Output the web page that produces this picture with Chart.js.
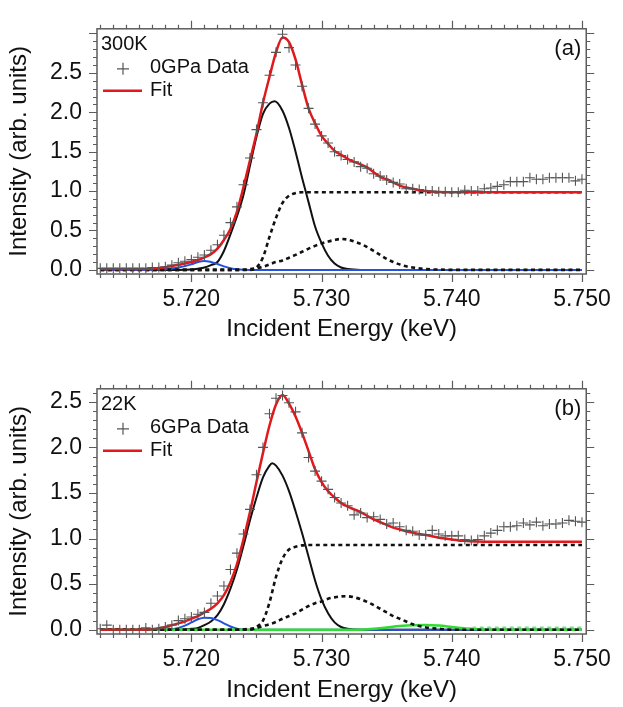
<!DOCTYPE html>
<html>
<head>
<meta charset="utf-8">
<script src="https://cdn.jsdelivr.net/npm/chart.js@4.4.1/dist/chart.umd.min.js"></script>
<style>
  html, body { margin:0; padding:0; background:#fff; }
  body { width:623px; height:707px; position:relative; overflow:hidden; }
  canvas { position:absolute; left:0; }
  #chartA { top:0; }
  #chartB { top:360px; }
</style>
</head>
<body>
<canvas id="chartA" width="623" height="346"></canvas>
<canvas id="chartB" width="623" height="347"></canvas>
<script>
// ---- data (energy in keV, intensity in arb. units) ----
const energy = [
  5.7130, 5.7135, 5.7140, 5.7145, 5.7150, 5.7155, 5.7160, 5.7165, 5.7170, 5.7175,
  5.7180, 5.7185, 5.7190, 5.7195, 5.7200, 5.7205, 5.7210, 5.7215, 5.7220, 5.7225,
  5.7230, 5.7235, 5.7240, 5.7245, 5.7250, 5.7255, 5.7260, 5.7265, 5.7270, 5.7275,
  5.7280, 5.7285, 5.7290, 5.7295, 5.7300, 5.7305, 5.7310, 5.7315, 5.7320, 5.7325,
  5.7330, 5.7335, 5.7340, 5.7345, 5.7350, 5.7355, 5.7360, 5.7365, 5.7370, 5.7375,
  5.7380, 5.7385, 5.7390, 5.7395, 5.7400, 5.7405, 5.7410, 5.7415, 5.7420, 5.7425,
  5.7430, 5.7435, 5.7440, 5.7445, 5.7450, 5.7455, 5.7460, 5.7465, 5.7470, 5.7475,
  5.7480, 5.7485, 5.7490, 5.7495, 5.7500
];
const dataA = [
  0.02, 0.02, 0.02, 0.02, 0.02, 0.02, 0.02, 0.02, 0.03, 0.03,
  0.04, 0.06, 0.09, 0.11, 0.13, 0.16, 0.19, 0.25, 0.32, 0.44,
  0.60, 0.80, 1.08, 1.42, 1.78, 2.12, 2.47, 2.76, 2.99, 2.82,
  2.60, 2.33, 2.05, 1.85, 1.70, 1.61, 1.50, 1.45, 1.40, 1.37,
  1.31, 1.29, 1.22, 1.19, 1.14, 1.11, 1.09, 1.03, 1.03, 1.02,
  1.00, 1.00, 0.99, 0.99, 0.985, 0.985, 1.01, 1.00, 1.00, 1.03,
  1.04, 1.06, 1.08, 1.12, 1.12, 1.12, 1.17, 1.15, 1.15, 1.17,
  1.17, 1.17, 1.17, 1.13, 1.15
];
const dataB = [
  0.01, 0.05, 0.00, 0.00, 0.00, 0.00, 0.00, 0.02, 0.00, 0.01,
  0.03, 0.05, 0.10, 0.12, 0.14, 0.17, 0.19, 0.29, 0.37, 0.48,
  0.66, 0.84, 1.05, 1.32, 1.70, 2.00, 2.37, 2.54, 2.57, 2.49,
  2.39, 2.16, 1.89, 1.74, 1.63, 1.54, 1.45, 1.39, 1.36, 1.26,
  1.28, 1.23, 1.24, 1.21, 1.16, 1.17, 1.13, 1.09, 1.08, 1.04,
  1.04, 1.09, 1.05, 1.03, 1.03, 1.03, 0.99, 0.98, 0.99, 1.03,
  1.06, 1.09, 1.13, 1.13, 1.14, 1.17, 1.15, 1.18, 1.14, 1.16,
  1.16, 1.17, 1.20, 1.19, 1.18
];

// fit curves, panel (a)
const fitAE = [5.7130, 5.7160,
  5.7165, 5.7170, 5.7175, 5.7180, 5.7185, 5.7190, 5.7195, 5.7200, 5.7205, 5.7210,
  5.7215, 5.7220, 5.7225, 5.7230, 5.7235, 5.7240, 5.7245, 5.7250, 5.7255, 5.7260,
  5.7265, 5.7270, 5.7275, 5.7280, 5.7285, 5.7290, 5.7295, 5.7300, 5.7305, 5.7310,
  5.7315, 5.7320, 5.7325, 5.7330, 5.7335, 5.7340, 5.7345, 5.7350, 5.7355, 5.7360,
  5.7365, 5.7370, 5.7375, 5.7380, 5.7385, 5.7390,
  5.7400, 5.7500];
const fitA = [0.01, 0.01,
  0.01, 0.015, 0.025, 0.035, 0.05, 0.065, 0.08, 0.10, 0.125, 0.16,
  0.20, 0.27, 0.38, 0.52, 0.74, 1.05, 1.39, 1.73, 2.12, 2.45,
  2.76, 2.95, 2.89, 2.67, 2.35, 2.05, 1.86, 1.70, 1.60, 1.51,
  1.46, 1.41, 1.37, 1.34, 1.30, 1.24, 1.18, 1.15, 1.11, 1.07,
  1.045, 1.03, 1.01, 1.00, 0.993, 0.988,
  0.985, 0.985];
const peakAE = [5.7130, 5.7190, 5.7200, 5.7205, 5.7210, 5.7215, 5.7220, 5.7225, 5.7230, 5.7235,
  5.7240, 5.7245, 5.7250, 5.7255, 5.7260, 5.7264, 5.7270, 5.7275, 5.7280, 5.7285,
  5.7290, 5.7295, 5.7300, 5.7305, 5.7310, 5.7315, 5.7320, 5.7330, 5.7500];
const peakA = [0, 0, 0.005, 0.015, 0.03, 0.06, 0.10, 0.24, 0.45, 0.68,
  0.95, 1.32, 1.69, 1.98, 2.11, 2.14, 2.02, 1.80, 1.50, 1.17,
  0.86, 0.55, 0.34, 0.18, 0.08, 0.03, 0.01, 0, 0];
const stepAE = [5.7130, 5.7245, 5.7250, 5.7255, 5.7260, 5.7265, 5.7270, 5.7275, 5.7280, 5.7285, 5.7500];
const stepA = [0, 0, 0.03, 0.16, 0.42, 0.66, 0.85, 0.94, 0.975, 0.985, 0.985];
const bumpAE = [5.7130, 5.7235, 5.7245, 5.7255, 5.7265,
  5.7270, 5.7275, 5.7280, 5.7285, 5.7290, 5.7295, 5.7300, 5.7305, 5.7310, 5.7315,
  5.7320, 5.7325, 5.7330, 5.7335, 5.7340, 5.7345, 5.7350, 5.7355, 5.7360, 5.7365, 5.7370,
  5.7380, 5.7390, 5.7400, 5.7500];
const bumpA = [0, 0, 0.01, 0.04, 0.10,
  0.12, 0.155, 0.19, 0.23, 0.27, 0.305, 0.335, 0.36, 0.38, 0.392,
  0.385, 0.36, 0.33, 0.29, 0.24, 0.19, 0.14, 0.10, 0.07, 0.045, 0.03,
  0.01, 0.004, 0, 0];
const preAE = [5.7130, 5.7170, 5.7180, 5.7190, 5.7200, 5.7205, 5.7210, 5.7215, 5.7220, 5.7225, 5.7230, 5.7235, 5.7245, 5.7500];
const preA = [0, 0, 0.01, 0.03, 0.07, 0.10, 0.114, 0.10, 0.075, 0.045, 0.022, 0.008, 0, 0];

// fit curves, panel (b)
const fitBE = [5.7130, 5.7165,
  5.7170, 5.7175, 5.7180, 5.7185, 5.7190, 5.7195, 5.7200, 5.7205, 5.7210, 5.7215,
  5.7220, 5.7225, 5.7230, 5.7235, 5.7240, 5.7245, 5.7250, 5.7255, 5.7260, 5.7265,
  5.7270, 5.7275, 5.7280, 5.7285, 5.7290, 5.7295, 5.7300, 5.7305, 5.7310, 5.7315,
  5.7320, 5.7325, 5.7330, 5.7335, 5.7340, 5.7345, 5.7350, 5.7355, 5.7360, 5.7365,
  5.7370, 5.7375, 5.7380, 5.7385, 5.7390, 5.7395, 5.7400, 5.7405, 5.7410, 5.7415,
  5.7420,
  5.7430, 5.7500];
const fitB = [0, 0,
  0.005, 0.015, 0.03, 0.05, 0.07, 0.09, 0.12, 0.15, 0.19, 0.23,
  0.29, 0.38, 0.52, 0.72, 0.99, 1.29, 1.62, 1.94, 2.24, 2.47,
  2.575, 2.48, 2.34, 2.16, 1.96, 1.76, 1.62, 1.52, 1.45, 1.39,
  1.35, 1.32, 1.29, 1.25, 1.21, 1.18, 1.15, 1.12, 1.10, 1.08,
  1.065, 1.05, 1.04, 1.025, 1.01, 1.00, 0.99, 0.98, 0.975, 0.97,
  0.967,
  0.965, 0.965];
const peakBE = [5.7130, 5.7190, 5.7200, 5.7205, 5.7210, 5.7215, 5.7220, 5.7225, 5.7230, 5.7235,
  5.7240, 5.7245, 5.7250, 5.7255, 5.7260, 5.7262, 5.7265, 5.7270, 5.7275, 5.7280,
  5.7285, 5.7290, 5.7295, 5.7300, 5.7305, 5.7310, 5.7315, 5.7320, 5.7330, 5.7500];
const peakB = [0, 0, 0.01, 0.02, 0.05, 0.09, 0.16, 0.28, 0.45, 0.66,
  0.92, 1.20, 1.45, 1.67, 1.80, 1.826, 1.80, 1.69, 1.52, 1.30,
  1.06, 0.80, 0.54, 0.33, 0.18, 0.08, 0.03, 0.01, 0, 0];
const stepBE = [5.7130, 5.7245, 5.7250, 5.7255, 5.7260, 5.7265, 5.7270, 5.7275, 5.7280, 5.7285, 5.7290, 5.7500];
const stepB = [0, 0, 0.03, 0.10, 0.30, 0.58, 0.78, 0.88, 0.91, 0.925, 0.93, 0.93];
const bumpBE = [5.7130, 5.7235,
  5.7245, 5.7250, 5.7255, 5.7260, 5.7265, 5.7270, 5.7275, 5.7280, 5.7285, 5.7290,
  5.7295, 5.7300, 5.7305, 5.7310, 5.7315, 5.7320, 5.7325, 5.7330, 5.7335, 5.7340,
  5.7345, 5.7350, 5.7355, 5.7360, 5.7365, 5.7370, 5.7375, 5.7380,
  5.7390, 5.7400, 5.7500];
const bumpB = [0, 0,
  0.01, 0.02, 0.04, 0.06, 0.085, 0.12, 0.15, 0.18, 0.22, 0.26,
  0.29, 0.31, 0.34, 0.355, 0.365, 0.367, 0.355, 0.335, 0.305, 0.27,
  0.23, 0.19, 0.15, 0.12, 0.09, 0.06, 0.04, 0.025,
  0.01, 0, 0];
const preBE = [5.7130, 5.7180, 5.7185, 5.7190, 5.7195, 5.7200, 5.7205, 5.7210, 5.7215, 5.7220, 5.7225, 5.7230, 5.7235, 5.7240, 5.7250, 5.7500];
const preB = [0, 0, 0.005, 0.02, 0.045, 0.08, 0.115, 0.132, 0.128, 0.105, 0.07, 0.035, 0.012, 0.003, 0, 0];
const postBE = [5.7130, 5.7330, 5.7340, 5.7350, 5.7360, 5.7370, 5.7380, 5.7390, 5.7400, 5.7410, 5.7420, 5.7430, 5.7500];
const postB = [0, 0, 0.01, 0.025, 0.04, 0.05, 0.053, 0.045, 0.03, 0.015, 0.005, 0, 0];
const postStepBE = [5.7410, 5.7420, 5.7500];
const postStepB = [0.02, 0.026, 0.026];

// axes and labels
const xRange = [5.71275, 5.75033];
const yRangeA = [-0.052, 3.059];
const yRangeB = [-0.047, 2.643];
const xTitle = 'Incident Energy (keV)';
const yTitle = 'Intensity (arb. units)';
const tempLabels = ['300K', '22K'];
const dataLabels = ['0GPa Data', '6GPa Data'];
const fitLabel = 'Fit';
const panelTags = ['(a)', '(b)'];

// ---- drawing ----
const FONT  = "'Liberation Sans', Arial, sans-serif";
const INK   = '#111111';
const FRAME = '#5c5c5c';
const RED   = '#e2191c';
const BLUE  = '#2452dc';
const GREEN = '#2fdc2f';
const GREY  = '#555555';

const pts = (xs, ys) => xs.map((x, i) => ({ x, y: ys[i] }));
const curve = (label, xs, ys, color, width, dash) => ({
  label, data: pts(xs, ys), showLine: true, borderColor: color, borderWidth: width,
  borderDash: dash || [], borderCapStyle: 'butt', pointRadius: 0, pointHoverRadius: 0,
  cubicInterpolationMode: 'monotone', fill: false,
});

// box, minor/major ticks on all four sides, and the in-plot annotations
const framePlugin = {
  id: 'frame',
  afterDraw(chart, args, o) {
    const { ctx, chartArea: a, scales: { x, y } } = chart;
    ctx.save();
    ctx.strokeStyle = FRAME;
    ctx.lineWidth = 1.5;
    ctx.strokeRect(a.left, a.top, a.right - a.left, a.bottom - a.top);
    ctx.lineWidth = 1.2;
    ctx.beginPath();
    for (let k = Math.ceil(x.min * 1000); k <= Math.floor(x.max * 1000); k++) {
      const px = Math.round(x.getPixelForValue(k / 1000)) + 0.5, len = k % 10 === 0 ? 8 : 4;
      ctx.moveTo(px, a.bottom); ctx.lineTo(px, a.bottom + len);
      ctx.moveTo(px, a.top);    ctx.lineTo(px, a.top - len);
    }
    for (let k = Math.ceil(y.min * 10); k <= Math.floor(y.max * 10); k++) {
      const py = Math.round(y.getPixelForValue(k / 10)) + 0.5, len = k % 5 === 0 ? 8 : 4;
      ctx.moveTo(a.left, py);  ctx.lineTo(a.left - len, py);
      ctx.moveTo(a.right, py); ctx.lineTo(a.right + len, py);
    }
    ctx.stroke();

    // legend
    ctx.fillStyle = INK;
    ctx.textBaseline = 'middle';
    ctx.font = `20px ${FONT}`;
    ctx.textAlign = 'left';
    ctx.fillText(o.temp, a.left + 4, a.top + 15.5);
    ctx.fillText(o.data, a.left + 53, a.top + 38.5);
    ctx.fillText(fitLabel, a.left + 53, a.top + 61.5);
    ctx.strokeStyle = GREY; ctx.lineWidth = 1.2;
    ctx.beginPath();
    ctx.moveTo(a.left + 20, a.top + 40); ctx.lineTo(a.left + 32, a.top + 40);
    ctx.moveTo(a.left + 26, a.top + 34); ctx.lineTo(a.left + 26, a.top + 46);
    ctx.stroke();
    ctx.strokeStyle = RED; ctx.lineWidth = 2.5;
    ctx.beginPath();
    ctx.moveTo(a.left + 6, a.top + 62); ctx.lineTo(a.left + 45, a.top + 62);
    ctx.stroke();
    ctx.font = `22px ${FONT}`;
    ctx.textAlign = 'right';
    ctx.fillText(o.tag, a.right - 5, a.top + 20);
    ctx.restore();
  },
};

function render(id, p) {
  const tick = { color: INK, font: { family: FONT, size: 23 } };
  const title = { color: INK, font: { family: FONT, size: 24 } };
  new Chart(document.getElementById(id), {
    type: 'scatter',
    data: { datasets: p.sets },
    options: {
      responsive: false, animation: false, events: [],
      layout: { padding: { top: 5, right: 30, left: 0, bottom: 0 } },
      plugins: { legend: { display: false }, tooltip: { enabled: false }, frame: p.notes },
      scales: {
        x: {
          type: 'linear', min: xRange[0], max: xRange[1],
          afterFit: s => { s.height = p.axisH; },
          grid: { display: false, drawTicks: false }, border: { display: false },
          ticks: { ...tick, stepSize: 0.01, includeBounds: false, padding: 12, maxRotation: 0, autoSkip: false,
                   callback: v => v.toFixed(3) },
          title: { ...title, display: true, text: xTitle, padding: { top: 0, bottom: 2 } },
        },
        y: {
          type: 'linear', min: p.yRange[0], max: p.yRange[1],
          afterFit: s => { s.width = 97; },
          grid: { display: false, drawTicks: false }, border: { display: false },
          ticks: { ...tick, stepSize: 0.5, includeBounds: false, padding: 15,
                   callback: v => (v > 2.6 ? '' : v.toFixed(1)) },
          title: { ...title, display: true, text: yTitle, padding: { top: 5, bottom: 0 } },
        },
      },
    },
    plugins: [framePlugin],
  });
}

const crosses = ys => ({
  label: 'data', data: pts(energy, ys), showLine: false, pointStyle: 'cross',
  pointRadius: 5, pointBorderWidth: 1.1, pointBorderColor: GREY, borderColor: GREY,
});
const DASH = [4, 3.5];

render('chartA', {
  yRange: yRangeA, axisH: 72,
  notes: { temp: tempLabels[0], data: dataLabels[0], tag: panelTags[0] },
  sets: [
    crosses(dataA),
    curve('fit', fitAE, fitA, RED, 2.5),
    curve('bump', bumpAE, bumpA, INK, 2.6, DASH),
    curve('step', stepAE, stepA, INK, 2.6, DASH),
    curve('pre', preAE, preA, BLUE, 2),
    curve('peak', peakAE, peakA, INK, 2),
  ],
});

render('chartB', {
  yRange: yRangeB, axisH: 73,
  notes: { temp: tempLabels[1], data: dataLabels[1], tag: panelTags[1] },
  sets: [
    crosses(dataB),
    curve('fit', fitBE, fitB, RED, 2.5),
    curve('bump', bumpBE, bumpB, INK, 2.6, DASH),
    curve('step', stepBE, stepB, INK, 2.6, DASH),
    curve('post2', postStepBE, postStepB, '#7de07d', 1.5, DASH),
    curve('post', postBE, postB, GREEN, 2.5),
    curve('pre', preBE, preB, BLUE, 2),
    curve('peak', peakBE, peakB, INK, 2),
  ],
});
</script>
</body>
</html>
